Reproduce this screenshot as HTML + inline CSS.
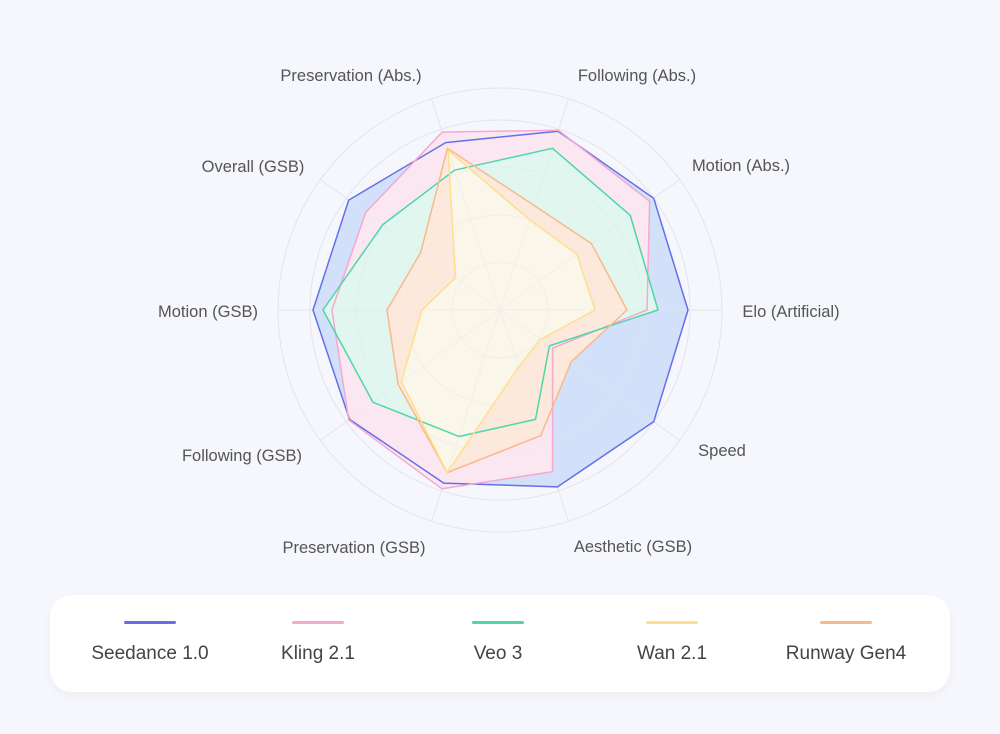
<!DOCTYPE html>
<html><head><meta charset="utf-8"><style>
html,body{margin:0;padding:0;background:#f5f7fc;width:1000px;height:734px;overflow:hidden;font-family:"Liberation Sans",sans-serif}
.leg{position:absolute;left:50px;top:595px;width:900px;height:97px;background:#fff;border-radius:22px;box-shadow:0 4px 10px rgba(0,0,0,0.04)}
.it{position:absolute;top:0;width:200px;margin-left:-100px;text-align:center}
.it i{display:block;width:52px;height:3px;margin:26px auto 0;border-radius:2px}
.it span{display:block;margin-top:19px;font-size:19px;color:#444}
</style></head><body>
<svg id="s" width="1000" height="590" style="position:absolute;left:0;top:0" font-family="Liberation Sans, sans-serif" font-size="16.5" fill="#555">
<g id="grid0"></g><g id="fills"></g><g id="grid"></g><g id="strokes"></g>
<text x="351" y="81" text-anchor="middle">Preservation (Abs.)</text>
<text x="637" y="81" text-anchor="middle">Following (Abs.)</text>
<text x="741" y="171" text-anchor="middle">Motion (Abs.)</text>
<text x="791" y="317" text-anchor="middle">Elo (Artificial)</text>
<text x="722" y="456" text-anchor="middle">Speed</text>
<text x="633" y="552" text-anchor="middle">Aesthetic (GSB)</text>
<text x="354" y="553" text-anchor="middle">Preservation (GSB)</text>
<text x="242" y="461" text-anchor="middle">Following (GSB)</text>
<text x="208" y="317" text-anchor="middle">Motion (GSB)</text>
<text x="253" y="172" text-anchor="middle">Overall (GSB)</text>
</svg>
<div class="leg">
<div class="it" style="left:100px"><i style="background:#6470e8"></i><span>Seedance 1.0</span></div>
<div class="it" style="left:268px"><i style="background:#f5a8d0"></i><span>Kling 2.1</span></div>
<div class="it" style="left:448px"><i style="background:#4fd6a8"></i><span>Veo 3</span></div>
<div class="it" style="left:622px"><i style="background:#fde08a"></i><span>Wan 2.1</span></div>
<div class="it" style="left:796px"><i style="background:#f9b98a"></i><span>Runway Gen4</span></div>
</div>
<script>
var cx=500,cy=310;
function pt(r,i){var a=i*36*Math.PI/180;return [cx+r*Math.cos(a),cy-r*Math.sin(a)];}
var h="";
[48,95,143,190,222].forEach(function(r){h+='<circle cx="'+cx+'" cy="'+cy+'" r="'+r+'" fill="none" stroke="#e4e6ec" stroke-width="1"/>';});
for(var i=0;i<10;i++){var p=pt(222,i);h+='<line x1="'+cx+'" y1="'+cy+'" x2="'+p[0]+'" y2="'+p[1]+'" stroke="#e4e6ec" stroke-width="1"/>';}
document.getElementById("grid0").innerHTML=h;
document.getElementById("grid").innerHTML='<g opacity="0.45">'+h+'</g>';
var S=[
["#6470e8","#d2e1f9",[188,190,188,176,187,187,186,182,186,190]],
["#f5a8d0","#fbe7f1",[147,185,189,187,166,168,187,188,170,65]],
["#4fd6a8","#e0f6ee",[158,161,170,147,145,177,157,133,115,61]],
["#f9b98a","#fde9dc",[127,113,110,170,98,113,126,171,132,88]],
["#fde08a","#fbf6ea",[95,95,95,168,55,78,122,171,60,50]]];
var f="",s2="";
S.forEach(function(s){var pts=s[2].map(function(r,i){return pt(r,i).join(",");}).join(" ");
f+='<polygon points="'+pts+'" fill="'+s[1]+'" stroke="none"/>';
s2+='<polygon points="'+pts+'" fill="none" stroke="'+s[0]+'" stroke-width="1.5" stroke-linejoin="round"/>';});
document.getElementById("fills").innerHTML=f;
document.getElementById("strokes").innerHTML=s2;
</script>
</body></html>
